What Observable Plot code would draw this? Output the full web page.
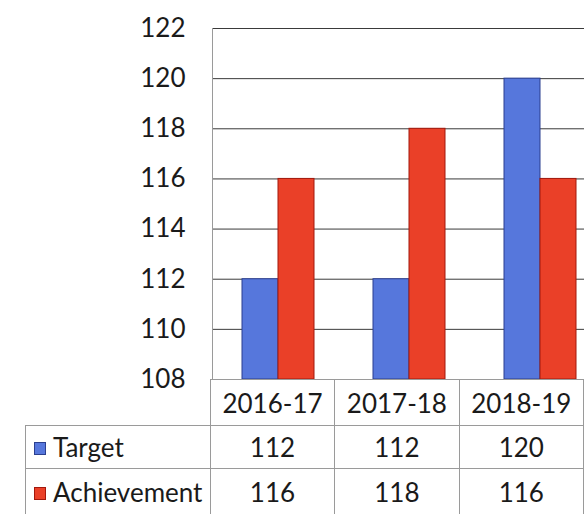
<!DOCTYPE html>
<html>
<head>
<meta charset="utf-8">
<script src="https://cdn.jsdelivr.net/npm/d3@7"></script>
<script src="https://cdn.jsdelivr.net/npm/@observablehq/plot@0.6"></script>
<style>
  html, body { margin: 0; padding: 0; background: #fff; overflow: hidden; }
  #wrap { position: relative; width: 584px; height: 514px; overflow: hidden; font-family: Lato, "Open Sans", sans-serif; }
  #chart { position: absolute; left: 0; top: 0; width: 606px; }
  #chart svg { max-width: none !important; }
  table { position: absolute; left: 25px; top: 379px; border-collapse: collapse; table-layout: fixed; font-family: Lato, sans-serif; font-size: 26px; color: #1a1a1a; }
  td { border: 1px solid #9a9a9a; text-align: center; padding: 0; white-space: nowrap; }
  td.blank { border-top: none; border-left: none; border-bottom: 1px solid #9a9a9a; }
  td.label { text-align: left; padding-left: 8px; }
  .sw { display: inline-block; width: 10px; height: 11px; margin-right: 7px; vertical-align: 2px; }
</style>
</head>
<body>
<div id="wrap"><div id="chart"></div></div>
<script>
const categories = ["2016-17", "2017-18", "2018-19"];
const target = [112, 112, 120];
const achievement = [116, 118, 116];
const seriesNames = ["Target", "Achievement"];
const seriesColors = ["#5677dc", "#ea4028"];
const seriesStroke = ["#2b3f8f", "#a3180c"];
const yTicks = [108, 110, 112, 114, 116, 118, 120, 122];

const data = categories.flatMap((c, i) => [
  {category: c, series: seriesNames[0], value: target[i]},
  {category: c, series: seriesNames[1], value: achievement[i]}
]);

const W = 606, H = 380, ML = 212, MT = 28, MB = 1;
const chart = Plot.plot({
  width: W, height: H,
  marginLeft: ML, marginRight: 0, marginTop: MT, marginBottom: MB,
  x: {domain: categories, padding: 0, axis: null},
  y: {domain: [yTicks[0], yTicks[yTicks.length - 1]], axis: null},
  color: {domain: seriesNames, range: seriesColors},
  style: {fontFamily: "Lato, sans-serif", background: "transparent", overflow: "visible", maxWidth: "none"},
  marks: [
    Plot.gridY(yTicks, {stroke: "#3a3a3a", strokeOpacity: 1, strokeWidth: 1}),
    Plot.frame({anchor: "left", stroke: "#9a9a9a"}),
    Plot.barY(data.filter(d => d.series === seriesNames[0]), {
      x: "category", y1: yTicks[0], y2: "value", fill: "series",
      stroke: seriesStroke[0], strokeWidth: 1, insetLeft: 29, insetRight: 66
    }),
    Plot.barY(data.filter(d => d.series === seriesNames[1]), {
      x: "category", y1: yTicks[0], y2: "value", fill: "series",
      stroke: seriesStroke[1], strokeWidth: 1, insetLeft: 65, insetRight: 30
    }),
    Plot.axisY(yTicks, {tickSize: 0, tickPadding: 27, fontSize: 26, fill: "#1a1a1a", anchor: "left", label: null})
  ]
});
document.getElementById("chart").appendChild(chart);

// Data table aligned with the band scale columns
const step = (W - ML) / categories.length;
const table = d3.select("#wrap").append("table");
const cg = table.append("colgroup");
cg.append("col").style("width", (ML - 25) + "px");
categories.forEach(() => cg.append("col").style("width", step + "px"));

const head = table.append("tr").style("height", "46px");
head.append("td").attr("class", "blank");
head.selectAll("td.cat").data(categories).join("td").attr("class", "cat")
  .style("padding-top", "0px").text(d => d);

const rows = [target, achievement];
rows.forEach((vals, ri) => {
  const tr = table.append("tr").style("height", ri === 0 ? "43px" : "46px");
  const lab = tr.append("td").attr("class", "label");
  lab.append("span").attr("class", "sw")
    .style("background", seriesColors[ri]).style("border", "1px solid " + seriesStroke[ri]);
  lab.append("span").text(seriesNames[ri]);
  tr.selectAll("td.v").data(vals).join("td").attr("class", "v").text(d => d);
});
</script>
</body>
</html>
